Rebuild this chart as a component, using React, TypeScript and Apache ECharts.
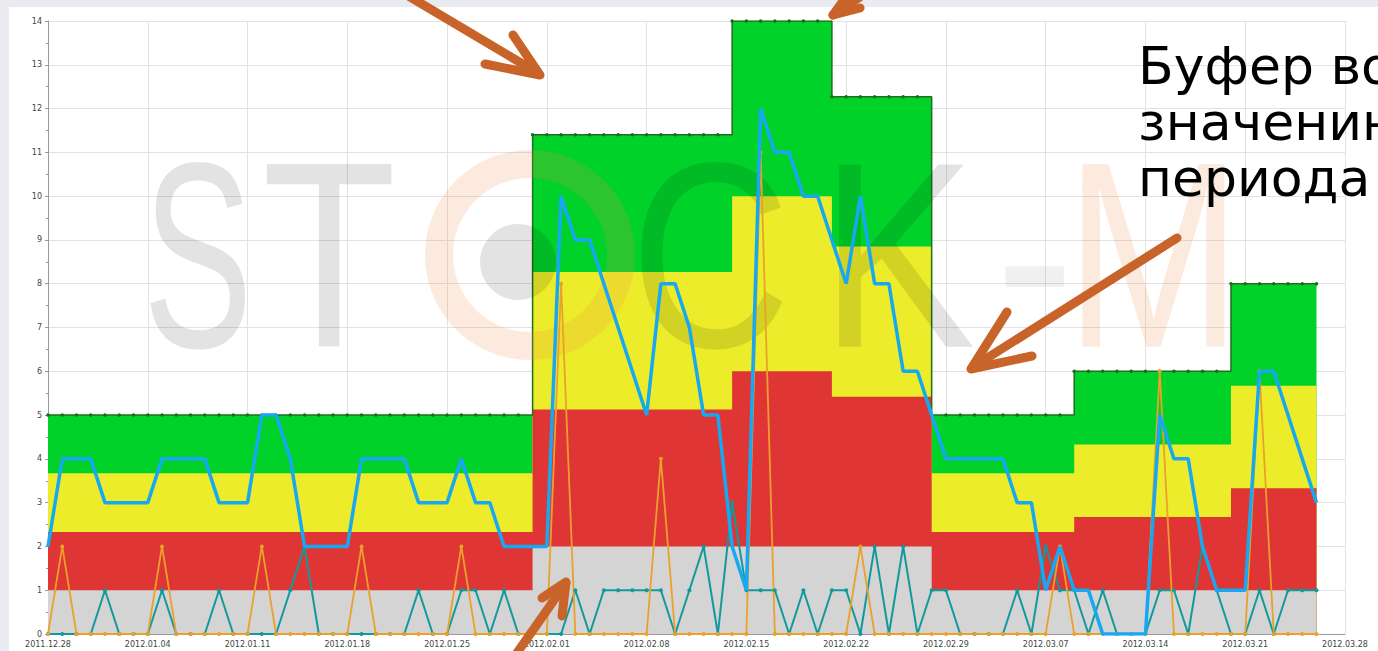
import React, { useEffect, useRef } from "react";
import * as echarts from "echarts";

// x axis: day index 0 = 2011.12.28, one tick label every 7 days
const X_TICK_LABELS = [
  "2011.12.28", "2012.01.04", "2012.01.11", "2012.01.18", "2012.01.25",
  "2012.02.01", "2012.02.08", "2012.02.15", "2012.02.22", "2012.02.29",
  "2012.03.07", "2012.03.14", "2012.03.21", "2012.03.28",
];
const DAYS_PER_TICK = 7;
const X_MAX = 91;
const Y_MAX = 14;

// buffer periods (start day index) and zone tops
const PERIOD_START = [0, 34, 48, 55, 62, 72, 83];
const LAST_DAY = 89;
const GRAY_TOP = [1, 2, 2, 2, 1, 1, 1];
const RED_TOP = [2.33, 5.13, 6, 5.42, 2.33, 2.67, 3.33];
const YELLOW_TOP = [3.67, 8.27, 10, 8.85, 3.67, 4.33, 5.67];
const GREEN_TOP = [5, 11.4, 14, 12.27, 5, 6, 8];

// daily stock level (blue)
const STOCK = [
  2, 4, 4, 4, 3, 3, 3, 3, 4, 4,
  4, 4, 3, 3, 3, 5, 5, 4, 2, 2,
  2, 2, 4, 4, 4, 4, 3, 3, 3, 4,
  3, 3, 2, 2, 2, 2, 10, 9, 9, 8,
  7, 6, 5, 8, 8, 7, 5, 5, 2, 1,
  12, 11, 11, 10, 10, 9, 8, 10, 8, 8,
  6, 6, 5, 4, 4, 4, 4, 4, 3, 3,
  1, 2, 1, 1, 0, 0, 0, 0, 5, 4,
  4, 2, 1, 1, 1, 6, 6, 5, 4, 3,
];
// daily consumption (teal)
const CONSUMPTION = [
  0, 0, 0, 0, 1, 0, 0, 0, 1, 0,
  0, 0, 1, 0, 0, 0, 0, 1, 2, 0,
  0, 0, 0, 0, 0, 0, 1, 0, 0, 1,
  1, 0, 1, 0, 0, 0, 0, 1, 0, 1,
  1, 1, 1, 1, 0, 1, 2, 0, 3, 1,
  1, 1, 0, 1, 0, 1, 1, 0, 2, 0,
  2, 0, 1, 1, 0, 0, 0, 0, 1, 0,
  2, 1, 1, 0, 1, 0, 0, 0, 1, 1,
  0, 2, 1, 0, 0, 1, 0, 1, 1, 1,
];
// daily replenishment (orange)
const REPLENISHMENT = [
  0, 2, 0, 0, 0, 0, 0, 0, 2, 0,
  0, 0, 0, 0, 0, 2, 0, 0, 0, 0,
  0, 0, 2, 0, 0, 0, 0, 0, 0, 2,
  0, 0, 0, 0, 0, 0, 8, 0, 0, 0,
  0, 0, 0, 4, 0, 0, 0, 0, 0, 0,
  11, 0, 0, 0, 0, 0, 0, 2, 0, 0,
  0, 0, 0, 0, 0, 0, 0, 0, 0, 0,
  0, 2, 0, 0, 0, 0, 0, 0, 6, 0,
  0, 0, 0, 0, 0, 6, 0, 0, 0, 0,
];

const NOTE_LINES = ["Буфер во", "значенин", "периода"];

const DAYS = Array.from({ length: LAST_DAY + 1 }, (_, d) => d);
function periodOf(d: number) {
  let k = 0;
  for (let i = 0; i < PERIOD_START.length; i++) if (d >= PERIOD_START[i]) k = i;
  return k;
}

const ARROW = "#c8632a";
function arrow(shaft: number[][], head: number[][]) {
  const style = { stroke: ARROW, lineWidth: 9, lineCap: "round", lineJoin: "round", fill: null };
  return [
    { type: "polyline", z: 20, shape: { points: shaft }, style },
    { type: "polyline", z: 20, shape: { points: head }, style },
  ];
}

function wmText(ch: string, x: number, sx: number, fill: string) {
  return {
    type: "text", z: 3, x, y: 255, scaleX: sx, silent: true,
    style: {
      text: ch, x: 0, y: 0, fill, fontSize: 265,
      fontFamily: "Liberation Sans", verticalAlign: "middle", align: "left",
    },
  };
}

export default function App() {
  const ref = useRef<HTMLDivElement>(null);
  useEffect(() => {
    document.body.style.margin = "0";
    const chart = echarts.init(ref.current!, null, { renderer: "svg" });

    const zone = (name: string, tops: number[], color: string, extra: any = {}) => ({
      type: "line", name, step: "end", silent: true, z: 2,
      data: DAYS.map((d) => [d, tops[periodOf(d)]]),
      areaStyle: { color, opacity: 1, origin: "start" },
      lineStyle: { width: 0, opacity: 0 },
      showSymbol: false,
      ...extra,
    });

    const GRAY_WM = "rgba(0,0,0,0.11)";
    const GRAY_WM_LIGHT = "rgba(0,0,0,0.06)";
    const ORANGE_WM = "rgba(245,140,70,0.18)";

    const option: any = {
      animation: false,
      backgroundColor: "#e9ebf1",
      grid: { left: 48, right: 33, top: 21, bottom: 17 },
      xAxis: {
        type: "value", min: 0, max: X_MAX, interval: DAYS_PER_TICK,
        axisLine: { show: true, lineStyle: { color: "#9a9a9a" } },
        axisTick: { show: false },
        axisLabel: {
          fontSize: 8, color: "#444", margin: 6, fontFamily: "DejaVu Sans",
          formatter: (v: number) => X_TICK_LABELS[Math.round(v / DAYS_PER_TICK)] ?? "",
        },
        splitLine: { show: true, lineStyle: { color: "#e2e2e2" } },
      },
      yAxis: {
        type: "value", min: 0, max: Y_MAX, interval: 1,
        axisLine: { show: true, lineStyle: { color: "#9a9a9a" } },
        axisTick: { show: true, length: 3, lineStyle: { color: "#9a9a9a" } },
        minorTick: { show: true, splitNumber: 2, length: 2, lineStyle: { color: "#9a9a9a" } },
        axisLabel: { fontSize: 8, color: "#444", margin: 6, fontFamily: "DejaVu Sans" },
        splitLine: { show: true, lineStyle: { color: "#e2e2e2" } },
      },
      series: [
        zone("green", GREEN_TOP, "#00d22a", {
          lineStyle: { width: 1.5, color: "#1f6f1f" },
          showSymbol: true, showAllSymbol: true, symbol: "circle", symbolSize: 3.5,
          itemStyle: { color: "#1f6a1f" },
        }),
        zone("yellow", YELLOW_TOP, "#ecec2a"),
        zone("red", RED_TOP, "#e03535"),
        zone("gray", GRAY_TOP, "#d4d4d4"),
        {
          type: "line", name: "consumption", z: 5,
          data: CONSUMPTION.map((v, i) => [i, v]),
          lineStyle: { color: "#119a9b", width: 2 },
          symbol: "circle", symbolSize: 4, showAllSymbol: true,
          itemStyle: { color: "#119a9b" },
        },
        {
          type: "line", name: "replenishment", z: 5,
          data: REPLENISHMENT.map((v, i) => [i, v]),
          lineStyle: { color: "#eaa12b", width: 1.8 },
          symbol: "circle", symbolSize: 4, showAllSymbol: true,
          itemStyle: { color: "#eaa12b" },
        },
        {
          type: "line", name: "stock", z: 6,
          data: STOCK.map((v, i) => [i, v]),
          lineStyle: { color: "#17a8f2", width: 3.5 },
          showSymbol: false,
        },
      ],
      graphic: [
        { type: "rect", z: -100, silent: true, shape: { x: 9, y: 7, width: 1369, height: 644 }, style: { fill: "#ffffff" } },
        wmText("S", 143, 0.62, GRAY_WM),
        wmText("T", 262, 0.83, GRAY_WM),
        { type: "ring", z: 3, silent: true, shape: { cx: 530, cy: 255, r: 105, r0: 77 }, style: { fill: ORANGE_WM } },
        { type: "circle", z: 3, silent: true, shape: { cx: 518, cy: 262, r: 38 }, style: { fill: GRAY_WM } },
        wmText("C", 630, 0.84, GRAY_WM),
        wmText("K", 820, 0.88, GRAY_WM),
        wmText("-", 995, 0.9, GRAY_WM_LIGHT),
        wmText("M", 1065, 0.8, ORANGE_WM),
        ...arrow([[405, -6], [538, 73]], [[485, 64], [540, 75], [513, 35]]),
        ...arrow([[885, -20], [833, 15]], [[848, -6], [833, 15], [860, 8]]),
        ...arrow([[1177, 238], [973, 367]], [[1007, 312], [971, 369], [1032, 356]]),
        ...arrow([[512, 660], [566, 583]], [[542, 598], [566, 582], [562, 616]]),
        ...NOTE_LINES.map((t, i) => ({
          type: "text", z: 20, x: 1138, y: 66 + i * 56, silent: true,
          style: { text: t, fill: "#000", fontSize: 52, fontFamily: "DejaVu Sans", verticalAlign: "middle", align: "left" },
        })),
      ],
    };
    chart.setOption(option);
    return () => chart.dispose();
  }, []);
  return <div ref={ref} style={{ width: 1378, height: 651 }} />;
}
